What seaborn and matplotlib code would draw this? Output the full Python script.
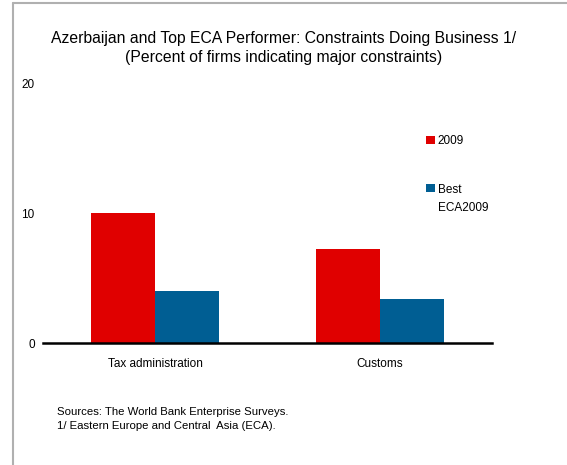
import matplotlib
matplotlib.use("Agg")
import matplotlib.pyplot as plt
from matplotlib.lines import Line2D
import seaborn as sns
import pandas as pd

###########################################################################
# data

categories = ["Tax administration", "Customs"]
series_names = ["2009", "Best\nECA2009"]
values_2009 = [10.0, 7.2]
values_best = [4.0, 3.4]
y_ticks = [0, 10, 20]

title_text = ("Azerbaijan and Top ECA Performer: Constraints Doing Business 1/\n"
              "(Percent of firms indicating major constraints)")
notes_text = ("Sources: The World Bank Enterprise Surveys.\n"
              "1/ Eastern Europe and Central  Asia (ECA).")

###########################################################################
# plotting

sns.set_style("white")
plt.rcParams["font.family"] = ["Liberation Sans", "DejaVu Sans"]
plt.rcParams["text.color"] = "black"
plt.rcParams["xtick.color"] = "black"
plt.rcParams["ytick.color"] = "black"

df = pd.DataFrame({
    "category": categories * 2,
    "series": [series_names[0]] * 2 + [series_names[1]] * 2,
    "value": values_2009 + values_best,
})

fig = plt.figure(figsize=(5.67, 4.65), dpi=100)
ax = fig.add_axes([43 / 567, 1 - 343 / 465, 449 / 567, 260 / 465])

sns.barplot(data=df, x="category", y="value", hue="series",
            palette=["#E00000", "#005E93"], width=0.57,
            saturation=1, linewidth=0, ax=ax)

ax.set_xlim(-0.5, 1.5)
ax.set_ylim(0, 20)
ax.set_yticks(y_ticks)
ax.set_yticklabels([str(t) for t in y_ticks], fontsize=8.5)
ax.tick_params(axis="y", length=0, pad=6)
ax.tick_params(axis="x", which="major", length=0, pad=11, labelsize=8.5)
ax.set_xticks([-0.5, 0.5, 1.5], minor=True)
ax.tick_params(axis="x", which="minor", length=4, width=1, direction="out",
               color="black")
ax.set_xlabel("")
ax.set_ylabel("")
for side in ["top", "right", "left"]:
    ax.spines[side].set_visible(False)
ax.spines["bottom"].set_linewidth(1.8)
ax.spines["bottom"].set_color("black")

leg = ax.legend(loc="upper left", bbox_to_anchor=(0.83, 0.84), frameon=False,
                fontsize=8.5, handlelength=0.7, handleheight=0.7,
                handletextpad=0.25, labelspacing=3.1)
for txt in leg.get_texts():
    txt.set_linespacing(1.65)
# put the square next to the first line of the two-line label
leg.legend_handles[1].set_y(leg.legend_handles[1].get_y() + 8)

fig.text(0.5, 1 - 48 / 465, title_text, ha="center", va="center",
         fontsize=11.3, linespacing=1.3)
fig.text(57 / 567, 1 - 419 / 465, notes_text, ha="left", va="center",
         fontsize=8.2, linespacing=1.55)

# gray frame lines at top and left
fig.add_artist(Line2D([13 / 567, 1], [1 - 3 / 465, 1 - 3 / 465],
                      transform=fig.transFigure, color="#B0B0B0", lw=1.5))
fig.add_artist(Line2D([13 / 567, 13 / 567], [0, 1 - 3 / 465],
                      transform=fig.transFigure, color="#B0B0B0", lw=1.5))

fig.savefig("out.png", dpi=100)
plt.close()
